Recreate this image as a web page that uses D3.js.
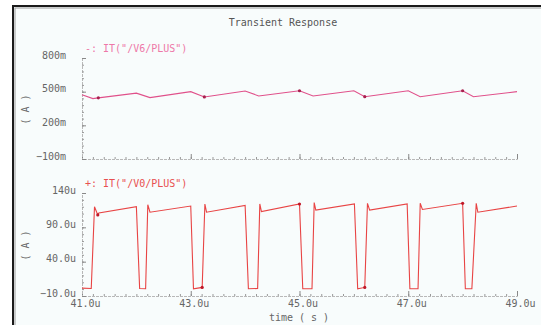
<!DOCTYPE html>
<html><head><meta charset="utf-8">
<script src="https://cdn.jsdelivr.net/npm/d3@7/dist/d3.min.js"></script>
<style>body{margin:0;background:#fff}svg{display:block}text{font-family:"DejaVu Sans Mono",monospace}</style>
</head><body>
<svg id="c" width="541" height="325"></svg>
<script>
// ---- data ----
const title = "Transient Response";
const xTicks = [41, 43, 45, 47, 49];
const xTickLabels = ["41.0u", "43.0u", "45.0u", "47.0u", "49.0u"];
const topName = "-: IT(\"/V6/PLUS\")";
const topTicks = [0.8, 0.5, 0.2, -0.1];
const topTickLabels = ["800m", "500m", "200m", "\u2212100m"];
const topTime = [41.0, 41.2, 41.3, 42.0, 42.25, 43.0, 43.25, 44.0, 44.25, 45.0, 45.25, 46.0, 46.2, 47.0, 47.22, 48.0, 48.2, 49.0];
const topVal  = [0.472, 0.438, 0.445, 0.487, 0.447, 0.500, 0.453, 0.506, 0.462, 0.508, 0.462, 0.508, 0.455, 0.508, 0.455, 0.508, 0.455, 0.500];
const topMarkTime = [41.3, 43.25, 45.0, 46.2, 48.0];
const botName = "+: IT(\"/V0/PLUS\")";
const botTicks = [140, 90, 40, -10];
const botTickLabels = ["140u", "90.0u", "40.0u", "\u221210.0u"];
const botTime = [41.00, 41.17, 41.23, 41.25, 41.29, 41.31, 42.00, 42.06, 42.17, 42.21, 42.25, 43.00, 43.05, 43.21, 43.26, 43.29, 44.00, 44.06, 44.23, 44.27, 44.30, 45.00, 45.06, 45.23, 45.27, 45.30, 46.01, 46.07, 46.20, 46.25, 46.29, 46.98, 47.03, 47.18, 47.22, 47.26, 48.00, 48.05, 48.17, 48.25, 48.28, 49.00];
const botVal  = [1.5, 1.0, 120, 116, 108, 111, 120, 1.0, 0.5, 123, 112, 121, 0.5, 2.5, 124, 112, 122, 0.5, 1.0, 124, 113, 124, 0.5, 0.5, 126, 115, 124, 0.5, 2.5, 125, 115, 124, 0.5, 0.5, 125, 116, 125, 0.5, 0.5, 125, 112, 121];
const botMarkTime = [41.29, 43.21, 45.0, 46.2, 48.0];
const xLabel = "time ( s )";
const yLabel = "( A )";

// ---- drawing ----
const svg = d3.select("#c");
svg.append("rect").attr("x", 13).attr("y", 6).attr("width", 560).attr("height", 360)
  .attr("fill", "#f8fcfc").attr("stroke", "#1a1a1a").attr("stroke-width", 2);
svg.append("rect").attr("x", 15).attr("y", 8).attr("width", 560).attr("height", 360)
  .attr("fill", "none").attr("stroke", "#9a9a9a").attr("stroke-width", 1);

svg.append("text").attr("x", 283).attr("y", 23).attr("text-anchor", "middle")
  .attr("dominant-baseline", "middle").attr("font-size", 10).attr("fill", "#555").text(title);

const x = d3.scaleLinear().domain([41, 49]).range([82, 517]);
const minorX = d3.range(41, 49.001, 0.2).map(v => +v.toFixed(2));

function panel(o) {
  const y = d3.scaleLinear().domain(o.domain).range([o.bottom, o.top]);
  const g = svg.append("g");
  // x-axis ticks (upward)
  const xa = g.append("g").attr("transform", `translate(0,${o.bottom})`)
    .call(d3.axisTop(x).tickValues(minorX).tickSize(2).tickFormat(""));
  xa.select(".domain").attr("stroke", "#b8b8b8").attr("stroke-dasharray", "3,1");
  xa.selectAll(".tick line").attr("stroke", "#999");
  const xm = g.append("g").attr("transform", `translate(0,${o.bottom})`)
    .call(d3.axisTop(x).tickValues(xTicks).tickSize(5).tickFormat(""));
  xm.select(".domain").remove();
  xm.selectAll(".tick line").attr("stroke", "#888");
  if (o.xLabels) {
    const xl = g.append("g").attr("transform", `translate(3,${o.bottom})`)
      .call(d3.axisBottom(x).tickValues(xTicks).tickSize(0).tickPadding(4)
        .tickFormat((d, i) => xTickLabels[i]));
    xl.select(".domain").remove();
    xl.selectAll("text").attr("font-size", 10).attr("fill", "#666").attr("font-family", "DejaVu Sans Mono");
  }
  // y-axis
  const minorY = d3.range(0, 16).map(i => o.domain[0] + i * o.minorStep).filter(v => v <= o.domain[1] + 1e-9);
  const ya = g.append("g").attr("transform", `translate(82,0)`)
    .call(d3.axisRight(y).tickValues(minorY).tickSize(2).tickFormat(""));
  ya.select(".domain").attr("stroke", "#b8b8b8").attr("stroke-dasharray", "3,1");
  ya.selectAll(".tick line").attr("stroke", "#999");
  const ym = g.append("g").attr("transform", `translate(82,0)`)
    .call(d3.axisRight(y).tickValues(o.ticks).tickSize(4).tickFormat(""));
  ym.select(".domain").remove();
  ym.selectAll(".tick line").attr("stroke", "#888");
  const yl = g.append("g").attr("transform", `translate(${o.labelRight},-3)`)
    .call(d3.axisLeft(y).tickValues(o.ticks).tickSize(0).tickPadding(0)
      .tickFormat((d, i) => o.tickLabels[i]));
  yl.select(".domain").remove();
  yl.selectAll("text").attr("font-size", 10).attr("fill", "#666").attr("font-family", "DejaVu Sans Mono");
  // y label
  g.append("text").attr("transform", `translate(26,${(o.top + o.bottom) / 2 + 1}) rotate(-90)`)
    .attr("text-anchor", "middle").attr("dominant-baseline", "middle")
    .attr("font-size", 10).attr("fill", "#666").text(yLabel);
  // legend
  g.append("text").attr("x", 85).attr("y", o.top - 9).attr("dominant-baseline", "middle")
    .attr("font-size", 10).attr("fill", o.legendColor).text(o.name);
  // trace
  const pts = o.time.map((t, i) => [t, o.val[i]]);
  g.append("path").datum(pts).attr("fill", "none").attr("stroke", o.color).attr("stroke-width", 1.1)
    .attr("d", d3.line().x(d => x(d[0])).y(d => y(d[1])));
  const mk = o.markTime.map(t => {
    const i = o.time.indexOf(t);
    return [t, o.val[i]];
  });
  g.selectAll(null).data(mk).join("circle").attr("cx", d => x(d[0])).attr("cy", d => y(d[1]))
    .attr("r", 1.6).attr("fill", o.markColor);
}

panel({domain: [-0.1, 0.8], top: 58, bottom: 159, ticks: topTicks, tickLabels: topTickLabels,
  minorStep: 0.06, labelRight: 66, name: topName, time: topTime, val: topVal, markTime: topMarkTime,
  color: "#e0508a", legendColor: "#ee78a8", markColor: "#a8204e", xLabels: false});
panel({domain: [-10, 140], top: 193, bottom: 296, ticks: botTicks, tickLabels: botTickLabels,
  minorStep: 10, labelRight: 76, name: botName, time: botTime, val: botVal, markTime: botMarkTime,
  color: "#e84444", legendColor: "#e85050", markColor: "#c01828", xLabels: true});

svg.append("text").attr("x", 299).attr("y", 318).attr("text-anchor", "middle")
  .attr("dominant-baseline", "middle").attr("font-size", 10).attr("fill", "#666").text(xLabel);
</script>
</body></html>
